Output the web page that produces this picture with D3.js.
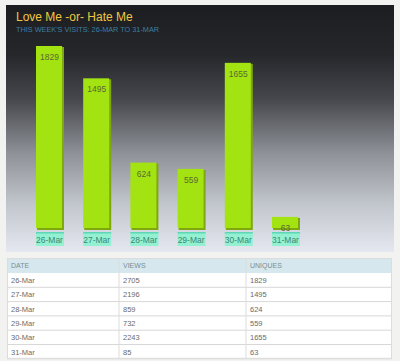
<!DOCTYPE html>
<meta charset="utf-8">
<script src="https://d3js.org/d3.v7.min.js"></script>
<style>
  body { margin: 0; background: #f2f2f0; }
  text { font-family: "Liberation Sans", Arial, sans-serif; }
</style>
<div id="chart"></div>
<script>
// data
const days = ["26-Mar", "27-Mar", "28-Mar", "29-Mar", "30-Mar", "31-Mar"];
const views = [2705, 2196, 859, 732, 2243, 85];
const uniques = [1829, 1495, 624, 559, 1655, 63];
const columns = ["DATE", "VIEWS", "UNIQUES"];

const W = 400, H = 361;
const panel = { x: 6, y: 5, w: 388, h: 247 };
const barBottom = 229;

const svg = d3.select("#chart").append("svg")
    .attr("width", W)
    .attr("height", H);

// background gradient of the chart panel
const grad = svg.append("defs").append("linearGradient")
    .attr("id", "bg").attr("x1", 0).attr("y1", 0).attr("x2", 0).attr("y2", 1);
[[0, "#1b1d21"], [0.2, "#25272b"], [0.38, "#45474c"], [0.6, "#8e9197"],
 [0.8, "#c0c4cb"], [1, "#e5e8f0"]].forEach(function (s) {
    grad.append("stop").attr("offset", s[0]).attr("stop-color", s[1]);
});

svg.append("rect")
    .attr("x", panel.x).attr("y", panel.y)
    .attr("width", panel.w).attr("height", panel.h)
    .attr("fill", "url(#bg)");

svg.append("text")
    .attr("x", 16).attr("y", 21)
    .attr("fill", "#f2c640")
    .style("font-size", "12px")
    .text("Love Me -or- Hate Me");

svg.append("text")
    .attr("x", 16).attr("y", 31.5)
    .attr("fill", "#3d7ea3")
    .style("font-size", "7.3px")
    .text("THIS WEEK'S VISITS: 26-MAR TO 31-MAR");

// scales
const x = d3.scaleBand()
    .domain(days)
    .range([36, 299])
    .paddingInner(0.428)
    .paddingOuter(0);

const y = d3.scaleLinear()
    .domain([0, d3.max(uniques)])
    .range([barBottom - 6, 46]);

const bars = svg.append("g").selectAll("g")
    .data(days)
    .enter().append("g");

// shadow edge (right / bottom)
bars.append("rect")
    .attr("x", d => x(d) + 1)
    .attr("y", (d, i) => y(uniques[i]) + 1)
    .attr("width", x.bandwidth())
    .attr("height", (d, i) => barBottom - y(uniques[i]))
    .attr("fill", "#7fa80e");

bars.append("rect")
    .attr("x", d => x(d))
    .attr("y", (d, i) => y(uniques[i]))
    .attr("width", x.bandwidth() - 1)
    .attr("height", (d, i) => barBottom - y(uniques[i]) - 1)
    .attr("fill", "#a3e312");

bars.append("text")
    .attr("x", d => x(d) + x.bandwidth() / 2)
    .attr("y", (d, i) => y(uniques[i]) + 14)
    .attr("text-anchor", "middle")
    .attr("fill", "#5a6a30")
    .style("font-size", "8.5px")
    .text((d, i) => uniques[i]);

// day label boxes
bars.append("rect")
    .attr("x", d => x(d))
    .attr("y", 232)
    .attr("width", x.bandwidth() + 1)
    .attr("height", 14)
    .attr("fill", "#93f1d1");

bars.append("rect")
    .attr("x", d => x(d))
    .attr("y", 232)
    .attr("width", x.bandwidth() + 1)
    .attr("height", 1.5)
    .attr("fill", "#5fd6b6");

bars.append("text")
    .attr("x", d => x(d) + x.bandwidth() / 2)
    .attr("y", 243)
    .attr("text-anchor", "middle")
    .attr("fill", "#3b8877")
    .style("font-size", "8.5px")
    .text(d => d);

// table
const tbl = { x: 7, y: 258, w: 385, head: 15, row: 14.3 };
const colX = [7, 119, 246];

svg.append("rect")
    .attr("x", tbl.x).attr("y", tbl.y)
    .attr("width", tbl.w).attr("height", tbl.head)
    .attr("fill", "#d6e8ee");

svg.append("rect")
    .attr("x", tbl.x).attr("y", tbl.y + tbl.head)
    .attr("width", tbl.w).attr("height", tbl.row * days.length)
    .attr("fill", "#ffffff");

svg.append("g").selectAll("text")
    .data(columns)
    .enter().append("text")
    .attr("x", (d, i) => colX[i] + 4)
    .attr("y", tbl.y + 10)
    .attr("fill", "#7a8d95")
    .style("font-size", "7px")
    .text(d => d);

const rows = svg.append("g").selectAll("g")
    .data(days)
    .enter().append("g")
    .attr("transform", (d, i) => "translate(0," + (tbl.y + tbl.head + i * tbl.row) + ")");

rows.append("line")
    .attr("x1", tbl.x).attr("x2", tbl.x + tbl.w)
    .attr("y1", tbl.row).attr("y2", tbl.row)
    .attr("stroke", "#d8d8d8");

rows.selectAll("text")
    .data((d, i) => [d, views[i], uniques[i]])
    .enter().append("text")
    .attr("x", (d, i) => colX[i] + 4)
    .attr("y", 10)
    .attr("fill", "#6a6a6a")
    .style("font-size", "7.5px")
    .text(d => d);

// column dividers and outer border
svg.append("g").selectAll("line")
    .data(colX.slice(1))
    .enter().append("line")
    .attr("x1", d => d).attr("x2", d => d)
    .attr("y1", tbl.y).attr("y2", tbl.y + tbl.head + tbl.row * days.length)
    .attr("stroke", "#dcdcdc");

svg.append("rect")
    .attr("x", tbl.x + 0.5).attr("y", tbl.y + 0.5)
    .attr("width", tbl.w - 1).attr("height", tbl.head + tbl.row * days.length - 1)
    .attr("fill", "none")
    .attr("stroke", "#dcdcdc");
</script>
